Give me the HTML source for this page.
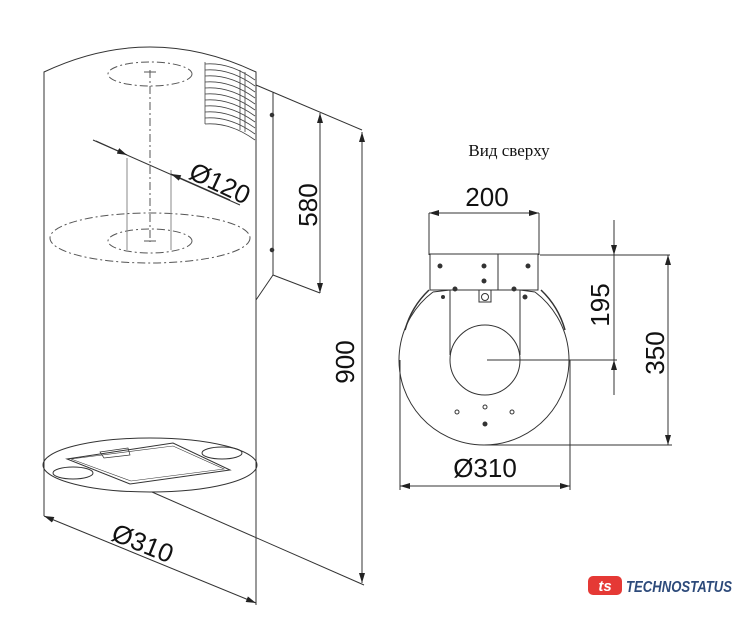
<!DOCTYPE html>
<html><head><meta charset="utf-8"><style>body{margin:0;background:#fff}svg{display:block}</style></head><body>
<svg width="744" height="640" viewBox="0 0 744 640" xmlns="http://www.w3.org/2000/svg" font-family="Liberation Sans, sans-serif">
<defs>
<marker id="a" viewBox="0 0 10 6" refX="10" refY="3" markerWidth="10" markerHeight="6" orient="auto-start-reverse" markerUnits="userSpaceOnUse"><path d="M0,0L10,3L0,6z" fill="#222"/></marker>
</defs>
<g fill="none" stroke="#333" stroke-width="1">
<path d="M44,516V72Q150,22 256,72V605"/>
<ellipse cx="150" cy="465" rx="107" ry="27"/>
<g stroke-dasharray="8,3,2,3" stroke="#555">
<ellipse cx="150" cy="74" rx="42" ry="12"/>
<ellipse cx="150" cy="238" rx="100" ry="25"/>
<ellipse cx="150" cy="241" rx="42" ry="12"/>
<path d="M150,70V242"/>
</g>
<path d="M144,72h12M144,241h12" stroke="#555"/>
<path d="M127,158V250M171,170V250" stroke="#888"/>
<g stroke="#444" stroke-width="0.8">
<path d="M205,64Q230,62 255,80M205,70Q230,68 255,86M205,76Q230,74 255,92M205,82Q230,80 255,98M205,88Q230,86 255,104M205,94Q230,92 255,110M205,100Q230,98 255,116M205,106Q230,104 255,122M205,112Q230,110 255,128M205,118Q230,116 255,134M205,124Q230,122 255,140"/>
<path d="M205,62V124M240,70V130M245,72V132"/>
</g>
<path d="M273,92V275L256,300M273,275L320,293M256,85L362,130"/>
<circle cx="272" cy="115" r="1.8" fill="#333"/><circle cx="272" cy="250" r="1.8" fill="#333"/>
<path d="M320,113V293" marker-start="url(#a)" marker-end="url(#a)"/>
<path d="M362,132V583" marker-start="url(#a)" marker-end="url(#a)"/>
<path d="M152,492L364,585"/>
<path d="M44,516L256,603" marker-start="url(#a)" marker-end="url(#a)"/>
<path d="M93,140L240,205"/>
<path d="M96,141L127,155" marker-end="url(#a)"/><path d="M230,200L171,174" marker-end="url(#a)"/>
<path d="M67,459L173,443L230,470L130,484Z"/>
<path d="M71,459L173,446L224,469L131,481Z" stroke-width="0.6"/>
<path d="M100,452L128,448L130,455L104,458Z" stroke-width="0.7"/>
<ellipse cx="73" cy="473" rx="20" ry="6"/><ellipse cx="222" cy="453" rx="20" ry="6"/>
<path d="M429,213H539" marker-start="url(#a)" marker-end="url(#a)"/>
<path d="M429,213V255M539,213V255"/>
<rect x="430" y="254" width="108" height="36"/>
<path d="M498,254V290"/>
<path d="M433,292A85,85 0 1 0 535,292"/>
<path d="M433,292L450,290M535,292L520,290"/>
<path d="M429,290A87,87 0 0 0 405,330M541,290A87,87 0 0 1 565,330" stroke-width="1.5"/>
<path d="M450,290V355M520,290V355"/>
<circle cx="485" cy="360" r="35"/>
<g fill="#333"><circle cx="440" cy="266" r="2"/><circle cx="484" cy="266" r="2"/><circle cx="528" cy="266" r="2"/><circle cx="484" cy="281" r="2"/><circle cx="455" cy="289" r="2"/><circle cx="514" cy="289" r="2"/><circle cx="443" cy="297" r="1.5"/><circle cx="525" cy="297" r="2"/><circle cx="485" cy="424" r="2"/></g>
<circle cx="457" cy="412" r="2"/><circle cx="485" cy="407" r="2"/><circle cx="512" cy="412" r="2"/>
<rect x="479" y="290" width="12" height="12"/><circle cx="485" cy="297" r="3.5"/>
<path d="M487,360H617M540,255H670M485,445H672"/>
<path d="M614,220V255" marker-end="url(#a)"/><path d="M614,395V360" marker-end="url(#a)"/>
<path d="M614,255V360"/>
<path d="M668,255V445" marker-start="url(#a)" marker-end="url(#a)"/>
<path d="M400,360V490M570,360V490"/>
<path d="M400,486H570" marker-start="url(#a)" marker-end="url(#a)"/>
</g>
<g fill="#111" font-size="26">
<text x="220" y="190" transform="rotate(25 215 182)" text-anchor="middle">Ø120</text>
<text x="308" y="205" transform="rotate(-90 308 205)" text-anchor="middle" dy="9">580</text>
<text x="356" y="362" transform="rotate(-90 356 362)" text-anchor="middle" dy="-2">900</text>
<text x="142" y="552" transform="rotate(22 142 545)" text-anchor="middle">Ø310</text>
<text x="487" y="206" text-anchor="middle">200</text>
<text x="600" y="305" transform="rotate(-90 600 305)" text-anchor="middle" dy="9">195</text>
<text x="655" y="353" transform="rotate(-90 655 353)" text-anchor="middle" dy="9">350</text>
<text x="485" y="477" text-anchor="middle">Ø310</text>
</g>
<text x="509" y="156" font-family="Liberation Serif, serif" font-size="17" text-anchor="middle" fill="#111">Вид сверху</text>
<g>
<rect x="588" y="576" width="34" height="19" rx="5" fill="#e53935"/>
<text x="605" y="591" font-size="15" font-weight="bold" fill="#fff" text-anchor="middle" font-style="italic">ts</text>
<text x="626" y="592" font-size="16" font-weight="bold" font-style="italic" fill="#2d4a7a" textLength="106" lengthAdjust="spacingAndGlyphs">TECHNOSTATUS</text>
</g>
</svg>
</body></html>
